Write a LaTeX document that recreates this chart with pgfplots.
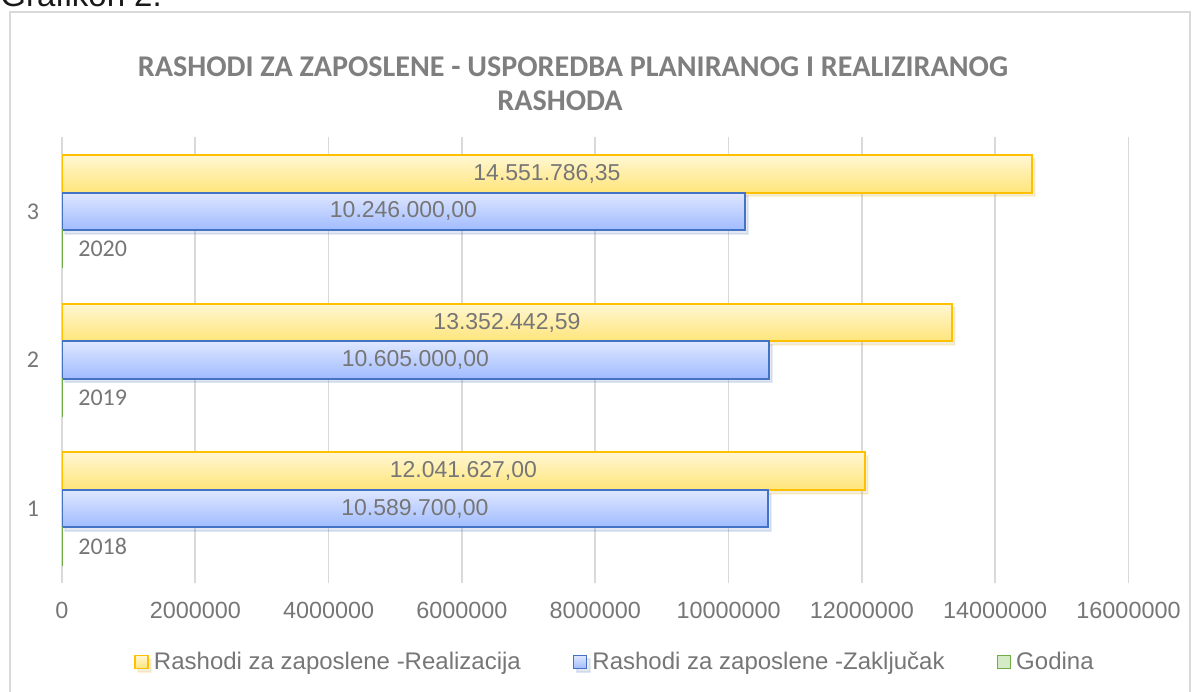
\documentclass[border=0pt]{standalone}
\usepackage{pgfplots}
\pgfplotsset{compat=1.18}
\usepackage{pgfplotstable}
\usepackage{fontspec}
\setmainfont{Liberation Sans}
\newfontfamily\calibri{Carlito}
\usetikzlibrary{shadows}
\definecolor{txt}{HTML}{767676}
\definecolor{titlec}{HTML}{7F7F7F}
\definecolor{gridc}{HTML}{D9D9D9}
\definecolor{yborder}{HTML}{FFC000}
\definecolor{ytop}{HTML}{FFF7D3}
\definecolor{ybot}{HTML}{FFE57A}
\definecolor{bborder}{HTML}{4472C4}
\definecolor{btop}{HTML}{DFE7FF}
\definecolor{bbot}{HTML}{A0BBFF}
\definecolor{gborder}{HTML}{70AD47}
\definecolor{gfill}{HTML}{D5EBC8}

\pgfplotstableread{
cat real zak god reallab zaklab godlab
1 12041627.00 10589700.00 2018 12.041.627,00 10.589.700,00 2018
2 13352442.59 10605000.00 2019 13.352.442,59 10.605.000,00 2019
3 14551786.35 10246000.00 2020 14.551.786,35 10.246.000,00 2020
}\data

\pgfplotsset{
  realstyle/.style={xbar, bar shift=0.252, draw=yborder, line width=1pt, top color=ytop, bottom color=ybot,
    drop shadow={opacity=0.13, shadow xshift=1.5pt, shadow yshift=-1.8pt}},
  zakstyle/.style={xbar, bar shift=0, draw=bborder, line width=1pt, top color=btop, bottom color=bbot,
    drop shadow={opacity=0.13, shadow xshift=1.5pt, shadow yshift=-1.8pt}},
  godstyle/.style={xbar, bar shift=-0.252, draw=gborder, line width=0.8pt, fill=gfill},
  lab/.style={forget plot, only marks, mark=none, nodes near coords, point meta=explicit symbolic,
    every node near coord/.append style={anchor=center, font=\fontsize{11.5}{13}\selectfont, text=txt}},
}

\begin{document}
\begin{tikzpicture}[x=0.5pt,y=0.5pt]
\useasboundingbox (0,0) rectangle (1197,691);
\begin{scope}
\clip (0,0) rectangle (1197,691);
\node[anchor=base west, inner sep=0pt, text=black!90, font=\fontsize{16.5}{18}\selectfont] at (0,684) {Grafikon 2.};
\draw[gridc, line width=0.6pt] (10,-10) rectangle (1190,679);
\end{scope}
\node[text=titlec, font=\calibri\bfseries\fontsize{15.05}{17}\selectfont, inner sep=0pt] at (573,624) {RASHODI ZA ZAPOSLENE - USPOREDBA PLANIRANOG I REALIZIRANOG};
\node[text=titlec, font=\calibri\bfseries\fontsize{15.05}{17}\selectfont, inner sep=0pt] at (560,590) {RASHODA};
\begin{axis}[
  at={(31pt,54pt)}, anchor=south west,
  width=533.25pt, height=223pt, scale only axis,
  xmin=0, xmax=16000000, ymin=0.5, ymax=3.5,
  scaled x ticks=false,
  xtick={0,2000000,4000000,6000000,8000000,10000000,12000000,14000000,16000000},
  xticklabels={0,2000000,4000000,6000000,8000000,10000000,12000000,14000000,16000000},
  ytick={1,2,3}, yticklabels={1,2,3},
  xmajorgrids, major grid style={draw=gridc, line width=0.85pt},
  axis line style={draw=none}, tick style={draw=none},
  xticklabel style={font=\fontsize{11.7}{13}\selectfont, text=txt, anchor=center, yshift=-13.5pt},
  yticklabel style={font=\calibri\fontsize{12}{14}\selectfont, text=txt, anchor=center, xshift=-14.5pt},
  bar width=0.252,
  legend columns=3,
  legend style={at={(0.5176,-0.177)}, anchor=center, draw=none, fill=none,
    font=\fontsize{12}{14}\selectfont, text=txt,
    /tikz/every even column/.append style={column sep=26pt},
    /tikz/every odd column/.append style={column sep=2.5pt},
    nodes={inner sep=0pt}},
  legend cell align=left,
  legend image code/.code={\draw[#1, line width=0.8pt] (0pt,-3.25pt) rectangle (6.5pt,3.25pt);},
]
% Realizacija
\addplot[realstyle] coordinates {(14551786.35,3)};
\addlegendentry{Rashodi za zaposlene -Realizacija}
\addplot[realstyle, forget plot] coordinates {(13352442.59,2)};
\addplot[realstyle, forget plot] coordinates {(12041627.00,1)};
% Zakljucak
\addplot[zakstyle] coordinates {(10246000.00,3)};
\addlegendentry{Rashodi za zaposlene -Zaklju\v{c}ak}
\addplot[zakstyle, forget plot] coordinates {(10605000.00,2)};
\addplot[zakstyle, forget plot] coordinates {(10589700.00,1)};
% Godina
\addplot[godstyle] table[x=god, y=cat] {\data};
\addlegendentry{Godina}
% labels
\addplot[lab] table[x expr=\thisrow{real}/2, y expr=\thisrow{cat}+0.252, meta=reallab] {\data};
\addplot[lab] table[x expr=\thisrow{zak}/2, y=cat, meta=zaklab] {\data};
\addplot[lab, every node near coord/.append style={anchor=west, inner sep=0pt, xshift=8pt, font=\calibri\fontsize{12}{14}\selectfont}]
  table[x expr=0, y expr=\thisrow{cat}-0.252, meta=godlab] {\data};
\end{axis}
\end{tikzpicture}
\end{document}
